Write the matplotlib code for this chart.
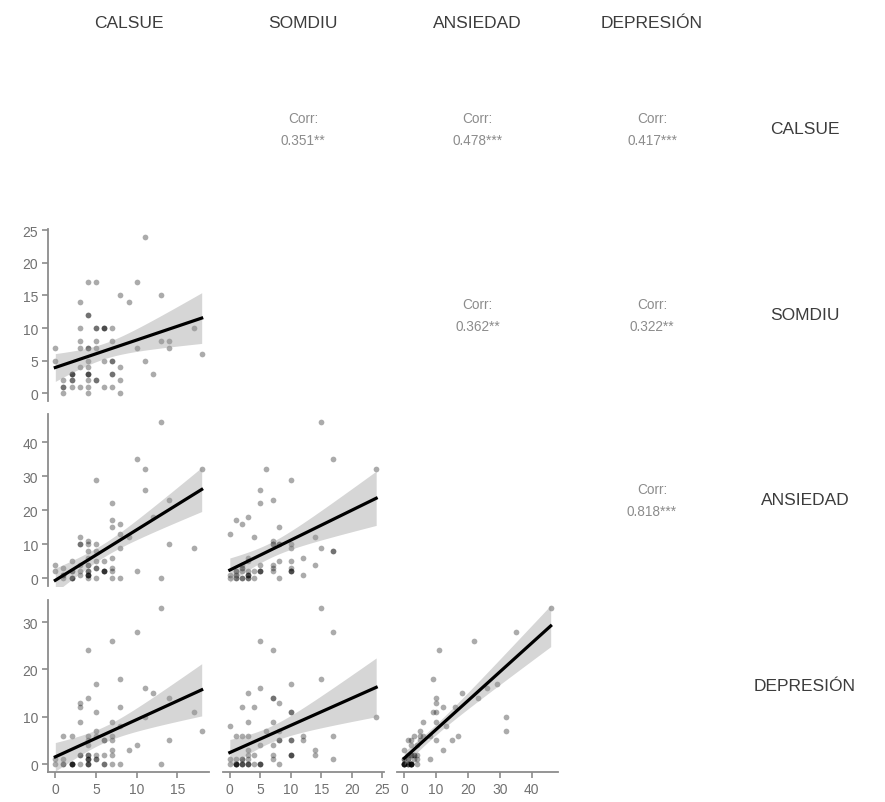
import numpy as np
import matplotlib.pyplot as plt
from matplotlib.ticker import MultipleLocator

plt.rcParams['font.family'] = ['Liberation Sans', 'DejaVu Sans']

variables = ["CALSUE", "SOMDIU", "ANSIEDAD", "DEPRESIÓN"]

# one value per respondent
calsue = [13, 10, 7, 4, 8, 5, 11, 12, 14, 4, 3, 3, 8, 5, 17, 11, 18, 3, 7, 13,
          14, 9, 10, 8, 8, 7, 7, 7, 7, 7, 6, 6, 6, 6, 5, 5, 5, 5, 5, 4,
          4, 4, 4, 4, 4, 4, 4, 4, 4, 3, 3, 3, 2, 2, 2, 2, 1, 1, 1, 0, 0,
          2, 1, 2, 4, 6]
somdiu = [15, 17, 5, 7, 15, 10, 5, 3, 7, 7, 8, 4, 2, 10, 10, 24, 6, 7, 3, 8,
          8, 14, 7, 0, 4, 1, 8, 10, 5, 3, 10, 10, 5, 1, 17, 8, 7, 2, 2, 17,
          12, 12, 5, 4, 3, 3, 2, 1, 0, 14, 10, 1, 3, 3, 2, 1, 2, 1, 0, 7, 5,
          2, 1, 3, 3, 10]
ansiedad = [46, 35, 22, 11, 9, 29, 26, 18, 23, 10, 10, 12, 16, 10, 9, 32, 32, 10, 6, 0,
            10, 12, 2, 13, 0, 17, 15, 3, 2, 0, 5, 2, 2, 2, 8, 5, 3, 3, 0, 8,
            6, 1, 4, 2, 1, 1, 4, 2, 0, 4, 2, 1, 5, 0, 2, 0, 3, 1, 1, 4, 2,
            0, 0, 2, 1, 2]
depresion = [33, 28, 26, 24, 18, 17, 16, 15, 14, 14, 13, 12, 12, 11, 11, 10, 7, 9, 9, 0,
             5, 3, 4, 8, 0, 6, 5, 2, 0, 3, 5, 5, 0, 0, 6, 7, 2, 1, 1, 1,
             6, 5, 4, 2, 1, 0, 0, 0, 1, 2, 2, 0, 6, 0, 0, 0, 6, 1, 0, 1, 0,
             0, 0, 0, 2, 2]

corr_labels = {(0, 1): "0.351**", (0, 2): "0.478***", (0, 3): "0.417***",
               (1, 2): "0.362**", (1, 3): "0.322**", (2, 3): "0.818***"}
tick_steps = [5, 5, 10, 10]

data = [np.array(v, dtype=float) for v in (calsue, somdiu, ansiedad, depresion)]

W, H = 885, 803
fig = plt.figure(figsize=(W / 100, H / 100), dpi=100)

col_left = [48, 222.5, 397, 571.5]
row_top = [44, 230, 415, 601]
cw, ch = 161, 172


def lims(v):
    lo, hi = v.min(), v.max()
    pad = 0.05 * (hi - lo)
    return lo - pad, hi + pad


for i in range(4):
    for j in range(4):
        ax = fig.add_axes([col_left[j] / W, 1 - (row_top[i] + ch) / H, cw / W, ch / H])
        for s in ax.spines.values():
            s.set_visible(False)
        if i < j:
            ax.set_xticks([])
            ax.set_yticks([])
            ax.text(0.5, 0.5, "Corr:\n" + corr_labels[(i, j)], ha='center', va='center',
                    fontsize=9.8, color='#8c8c8c', linespacing=1.75, transform=ax.transAxes)
            continue
        if i == j:
            ax.set_xticks([])
            ax.set_yticks([])
            continue

        x, y = data[j], data[i]
        ax.scatter(x, y, s=17, color='black', alpha=0.33, linewidths=0, zorder=2)

        b, a = np.polyfit(x, y, 1)
        n = len(x)
        resid = y - (a + b * x)
        sd = np.sqrt(np.sum(resid ** 2) / (n - 2))
        sxx = np.sum((x - x.mean()) ** 2)
        xs = np.linspace(x.min(), x.max(), 100)
        fit = a + b * xs
        se = sd * np.sqrt(1 / n + (xs - x.mean()) ** 2 / sxx)
        ax.fill_between(xs, fit - 2.0 * se, fit + 2.0 * se, color='#999999', alpha=0.4,
                        linewidth=0, zorder=3)
        ax.plot(xs, fit, color='black', lw=2.3, zorder=4)

        ax.set_xlim(*lims(x))
        ax.set_ylim(*lims(y))
        ax.xaxis.set_major_locator(MultipleLocator(tick_steps[j]))
        ax.yaxis.set_major_locator(MultipleLocator(tick_steps[i]))
        ax.tick_params(colors='#8c8c8c', labelcolor='#707070', labelsize=10,
                       length=4, width=1.2, pad=3)
        if j == 0:
            ax.spines['left'].set_visible(True)
            ax.spines['left'].set_color('#8c8c8c')
            ax.spines['left'].set_linewidth(1.3)
        else:
            ax.set_yticks([])
        if i == 3:
            ax.spines['bottom'].set_visible(True)
            ax.spines['bottom'].set_color('#8c8c8c')
            ax.spines['bottom'].set_linewidth(1.3)
        else:
            ax.set_xticks([])

for k, name in enumerate(variables):
    fig.text((col_left[k] + cw / 2) / W, 1 - 23 / H, name, ha='center', va='center',
             fontsize=12.5, color='#3c3c3c')
    fig.text(805 / W, 1 - (row_top[k] + ch / 2) / H, name, ha='center', va='center',
             fontsize=12.5, color='#3c3c3c')

fig.savefig("out.png", dpi=100)
